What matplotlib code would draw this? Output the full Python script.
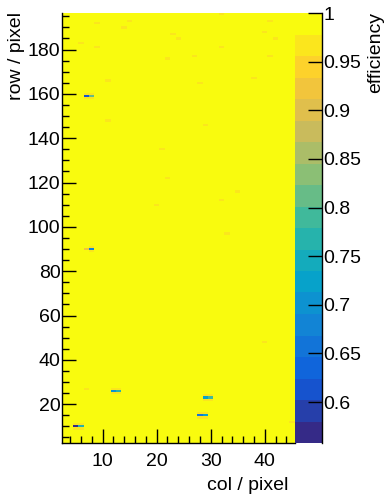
import numpy as np
import matplotlib
matplotlib.use('Agg')
import matplotlib.pyplot as plt
from matplotlib.colors import LinearSegmentedColormap, ListedColormap, Normalize
from matplotlib.ticker import MultipleLocator, FixedLocator

plt.rcParams['font.family'] = ['Liberation Sans', 'DejaVu Sans']

# ---- data ----
cols = np.arange(3, 46)      # column pixel indices
rows = np.arange(3, 197)     # row pixel indices

# inefficient pixels: (col, row, efficiency)
bad_cols = [5, 6, 7, 8, 7, 8, 12, 13, 29, 30, 28, 29]
bad_rows = [10, 10, 159, 159, 90, 90, 26, 26, 23, 23, 15, 15]
bad_eff = [0.558, 0.77, 0.62, 0.81, 0.93, 0.69, 0.70, 0.76, 0.72, 0.79, 0.66, 0.73]

# slightly inefficient single pixels
weak_cols = [32, 9, 15, 41, 14, 40, 23, 24, 42, 6, 9, 32, 27, 41, 22, 38, 11, 28,
             11, 29, 21, 22, 35, 32, 20, 33, 40, 7, 45]
weak_rows = [196, 192, 193, 193, 190, 188, 187, 185, 185, 183, 181, 181, 177, 177,
             176, 167, 166, 165, 148, 146, 135, 122, 116, 112, 110, 97, 48, 27, 12]
weak_eff = [0.962] * len(weak_cols)

# neighbours of the bad pixels
halo_cols = [5, 6, 5, 6, 7, 8, 7, 8, 8, 8, 12, 13, 12, 13, 29, 30, 29, 30, 28, 29, 28, 29]
halo_rows = [9, 9, 11, 11, 158, 158, 160, 160, 89, 91, 25, 25, 27, 27, 22, 22, 24, 24,
             14, 14, 16, 16]
halo_eff = [0.968] * len(halo_cols)

z_min, z_max = 0.558, 1.0
cbar_ticks = [0.6, 0.65, 0.7, 0.75, 0.8, 0.85, 0.9, 0.95, 1.0]
cbar_labels = ['0.6', '0.65', '0.7', '0.75', '0.8', '0.85', '0.9', '0.95', '1']

eff = np.ones((len(rows), len(cols)))
for c, r, e in zip(halo_cols + weak_cols + bad_cols,
                   halo_rows + weak_rows + bad_rows,
                   halo_eff + weak_eff + bad_eff):
    eff[r - rows[0], c - cols[0]] = e

# ROOT kBird palette
stops = [0.0, 0.125, 0.25, 0.375, 0.5, 0.625, 0.75, 0.875, 1.0]
red = [0.2082, 0.0592, 0.0780, 0.0232, 0.1802, 0.5301, 0.8186, 0.9956, 0.9764]
green = [0.1664, 0.3599, 0.5041, 0.6419, 0.7178, 0.7492, 0.7328, 0.7862, 0.9832]
blue = [0.5293, 0.8684, 0.8385, 0.7914, 0.6425, 0.4662, 0.3499, 0.1968, 0.0539]
bird = LinearSegmentedColormap.from_list('bird', list(zip(stops, zip(red, green, blue))))
cmap = ListedColormap(bird(np.linspace(0, 1, 20)))

W, H = 386, 495
fig = plt.figure(figsize=(W / 100, H / 100), dpi=100)
ax = fig.add_axes([62 / W, 52 / H, 232.5 / W, 430 / H])
cax = fig.add_axes([294.5 / W, 52 / H, 27.5 / W, 430 / H])

xe = np.append(cols - 0.5, cols[-1] + 0.5)
ye = np.append(rows - 0.5, rows[-1] + 0.5)
mesh = ax.pcolormesh(xe, ye, eff, cmap=cmap, norm=Normalize(z_min, z_max), shading='flat')

ax.set_xlim(xe[0], xe[-1])
ax.set_ylim(ye[0], ye[-1])
ax.xaxis.set_major_locator(FixedLocator([10, 20, 30, 40]))
ax.xaxis.set_minor_locator(MultipleLocator(2))
ax.yaxis.set_major_locator(MultipleLocator(20))
ax.yaxis.set_minor_locator(MultipleLocator(5))
ax.tick_params(which='both', direction='in', top=False, right=False, width=1, colors='black',
               labelsize=14)
ax.tick_params(which='major', length=10)
ax.tick_params(which='minor', length=5)
ax.tick_params(axis='x', pad=7)
ax.tick_params(axis='y', pad=1)
for s in ['top', 'right']:
    ax.spines[s].set_visible(False)
for s in ['left', 'bottom']:
    ax.spines[s].set_linewidth(1)

cb = fig.colorbar(mesh, cax=cax)
cb.set_ticks(cbar_ticks, labels=cbar_labels)
cb.outline.set_visible(False)
cax.minorticks_off()
cax.tick_params(direction='in', length=10, width=1, right=True, left=False, labelsize=14, pad=1)
cax.plot([1, 1], [0, 1], transform=cax.transAxes, color='black', lw=1, clip_on=False)

fig.text(17 / W, 1 - 12 / H, 'row / pixel', rotation=90, ha='center', va='top', fontsize=14)
fig.text(288 / W, 1 - 485 / H, 'col / pixel', ha='right', va='center', fontsize=14)
fig.text(376 / W, 1 - 12 / H, 'efficiency', rotation=90, ha='center', va='top', fontsize=14)

fig.savefig('out.png', dpi=100)
